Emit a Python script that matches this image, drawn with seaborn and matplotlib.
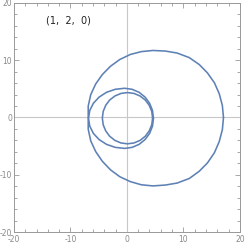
import numpy as np
import pandas as pd
import matplotlib
matplotlib.use("Agg")
import matplotlib.pyplot as plt
import seaborn as sns

# outer loop (counter-clockwise from the right)
outer_x = [17.1, 16.9, 16.35, 15.5, 14.25, 12.8, 11.05, 8.9, 6.8, 4.6, 2.55, 0.6,
           -1.25, -2.9, -4.35, -5.53, -6.4, -6.85, -6.85,
           -6.85, -6.4, -5.53, -4.35, -2.9, -1.25, 0.6, 2.55, 4.6, 6.8, 8.9,
           11.05, 12.8, 14.25, 15.5, 16.35, 16.9, 17.1]
outer_y = [0.0, 2.1, 4.15, 6.05, 7.8, 9.25, 10.45, 11.25, 11.6, 11.7, 11.5, 11.0,
           10.13, 8.95, 7.5, 5.85, 4.0, 2.0, 0.0,
           -2.05, -4.1, -5.95, -7.65, -9.15, -10.35, -11.2, -11.75, -11.95, -11.8, -11.45,
           -10.65, -9.4, -7.95, -6.15, -4.2, -2.15, 0.0]

# middle loop
mid_x = [4.7, 4.53, 4.02, 3.21, 2.15, 0.92, -0.4, -2.06, -3.6, -4.92, -5.94, -6.58, -6.8,
         -6.58, -5.94, -4.92, -3.6, -2.06, -0.4, 0.92, 2.15, 3.21, 4.02, 4.53, 4.7]
mid_y = [-0.15, 1.21, 2.48, 3.56, 4.4, 4.92, 5.1, 4.92, 4.4, 3.56, 2.48, 1.21, -0.15,
         -1.51, -2.78, -3.86, -4.7, -5.22, -5.4, -5.22, -4.7, -3.86, -2.78, -1.51, -0.15]

# inner loop
inner_x = [4.55, 4.4, 3.95, 3.25, 2.33, 1.25, 0.1, -1.05, -2.13, -3.05, -3.75, -4.2, -4.35,
           -4.2, -3.75, -3.05, -2.13, -1.05, 0.1, 1.25, 2.33, 3.25, 3.95, 4.4, 4.55]
inner_y = [-0.1, 1.05, 2.13, 3.05, 3.75, 4.2, 4.35, 4.2, 3.75, 3.05, 2.13, 1.05, -0.1,
           -1.27, -2.35, -3.28, -4.0, -4.45, -4.6, -4.45, -4.0, -3.28, -2.35, -1.27, -0.1]

label = "(1,  2,  0)"
ticks = [-20, -10, 0, 10, 20]
tick_labels = ["-20", "-10", "0", "10", "20"]

sns.set_theme(style="white")
plt.rcParams['font.family'] = ['DejaVu Sans']

fig = plt.figure(figsize=(2.45, 2.45), dpi=100)
ax = fig.add_axes([0.057, 0.053, 0.922, 0.935])

ax.axhline(0, color="#c8c8c8", lw=0.8, zorder=1)
ax.axvline(0, color="#c8c8c8", lw=0.8, zorder=1)

line_col = "#5e81b5"
for xs, ys in [(outer_x, outer_y), (mid_x, mid_y), (inner_x, inner_y)]:
    df = pd.DataFrame({"x": xs, "y": ys})
    sns.lineplot(data=df, x="x", y="y", sort=False, estimator=None,
                 color=line_col, lw=1.15, ax=ax, zorder=3)

ax.text(-10.3, 16.9, label, ha="center", va="center", fontsize=7,
        color="#222222")

ax.set_xlim(-20, 20)
ax.set_ylim(-20, 20)
ax.set_xticks(ticks)
ax.set_yticks(ticks)
ax.set_xticklabels(tick_labels)
ax.set_yticklabels(tick_labels)
ax.set_xticks(np.arange(-20, 21, 2), minor=True)
ax.set_yticks(np.arange(-20, 21, 2), minor=True)
ax.set_xlabel("")
ax.set_ylabel("")

ax.tick_params(which="both", direction="in", top=True, right=True, bottom=True, left=True,
               color="#999999", width=0.6, labelsize=5.5, labelcolor="#888888", pad=1.5)
ax.tick_params(axis="x", pad=2.5)
ax.tick_params(which="major", length=3.5)
ax.tick_params(which="minor", length=2)
for s in ax.spines.values():
    s.set_color("#999999")
    s.set_linewidth(0.7)

fig.savefig("out.png", dpi=100)
